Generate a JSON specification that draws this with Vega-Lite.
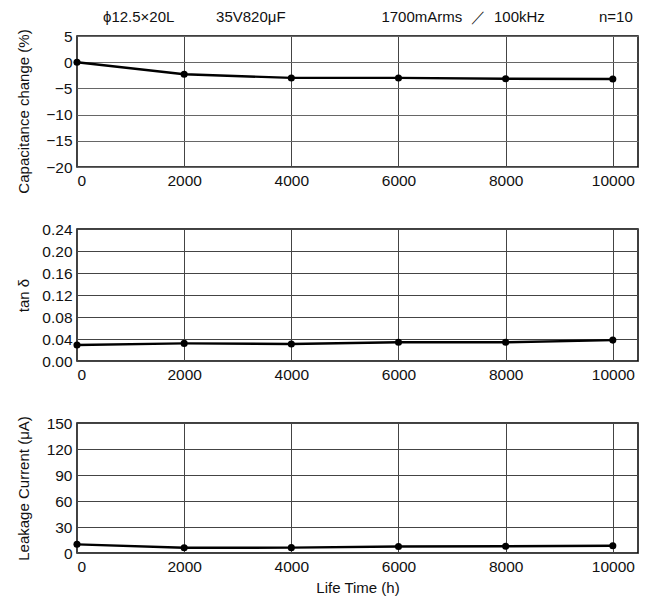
{
  "$schema": "https://vega.github.io/schema/vega-lite/v6.json",
  "background": "white",
  "padding": {"left": 15, "top": 9, "right": 5, "bottom": 0},
  "config": {
    "font": "Liberation Sans",
    "view": {"stroke": "#000", "strokeWidth": 1.5},
    "axis": {
      "domain": false,
      "ticks": false,
      "grid": true,
      "gridColor": "#444",
      "gridWidth": 1,
      "gridOpacity": 1,
      "labelFont": "Liberation Sans",
      "labelFontSize": 15.5,
      "labelColor": "#111",
      "labelPadding": 5,
      "titleFont": "Liberation Sans",
      "titleFontSize": 15,
      "titleFontWeight": "normal",
      "titleColor": "#111"
    },
    "title": {"font": "Liberation Sans", "fontSize": 15, "fontWeight": "normal", "color": "#111"}
  },
  "data": {
    "values": [
      {"t": 0, "cap": 0, "tan": 0.029, "leak": 10},
      {"t": 2000, "cap": -2.3, "tan": 0.032, "leak": 6},
      {"t": 4000, "cap": -3.0, "tan": 0.031, "leak": 6.2},
      {"t": 6000, "cap": -3.0, "tan": 0.034, "leak": 7.5},
      {"t": 8000, "cap": -3.15, "tan": 0.034, "leak": 7.8},
      {"t": 10000, "cap": -3.2, "tan": 0.038, "leak": 8.4}
    ]
  },
  "bounds": "flush",
  "spacing": 62,
  "vconcat": [
    {
      "width": 561,
      "height": 131,
      "title": {
        "text": "ϕ12.5×20L\u00a0\u00a0\u00a0\u00a0\u00a0\u00a0\u00a0\u00a0\u00a0\u00a035V820μF\u00a0\u00a0\u00a0\u00a0\u00a0\u00a0\u00a0\u00a0\u00a0\u00a0\u00a0\u00a0\u00a0\u00a0\u00a0\u00a0\u00a0\u00a0\u00a0\u00a0\u00a0\u00a0\u00a01700mArms\u00a0\u00a0／\u00a0\u00a0100kHz\u00a0\u00a0\u00a0\u00a0\u00a0\u00a0\u00a0\u00a0\u00a0\u00a0\u00a0\u00a0\u00a0n=10",
        "anchor": "start",
        "frame": "group",
        "dx": 26,
        "offset": 4
      },
      "encoding": {
        "x": {"field": "t", "type": "quantitative", "scale": {"domain": [0, 10470], "nice": false}, "axis": {"values": [0, 2000, 4000, 6000, 8000, 10000], "format": "d", "title": null, "labelPadding": 6}},
        "y": {"field": "cap", "type": "quantitative", "scale": {"domain": [-20, 5], "nice": false}, "axis": {"values": [5, 0, -5, -10, -15, -20], "title": "Capacitance change (%)", "titleX": -54, "titleY": 75, "titleBaseline": "middle", "gridColor": "#666"}}
      },
      "layer": [
        {"mark": {"type": "line", "color": "#000", "strokeWidth": 2.4}},
        {"mark": {"type": "point", "filled": true, "color": "#000", "size": 50, "opacity": 1}}
      ]
    },
    {
      "width": 561,
      "height": 132,
      "encoding": {
        "x": {"field": "t", "type": "quantitative", "scale": {"domain": [0, 10470], "nice": false}, "axis": {"values": [0, 2000, 4000, 6000, 8000, 10000], "format": "d", "title": null, "labelPadding": 6}},
        "y": {"field": "tan", "type": "quantitative", "scale": {"domain": [0, 0.24], "nice": false}, "axis": {"values": [0, 0.04, 0.08, 0.12, 0.16, 0.2, 0.24], "format": ".2f", "title": "tan δ", "titleX": -54, "titleY": 66, "titleBaseline": "middle"}}
      },
      "layer": [
        {"mark": {"type": "line", "color": "#000", "strokeWidth": 2.4}},
        {"mark": {"type": "point", "filled": true, "color": "#000", "size": 50, "opacity": 1}}
      ]
    },
    {
      "width": 561,
      "height": 130,
      "encoding": {
        "x": {"field": "t", "type": "quantitative", "scale": {"domain": [0, 10470], "nice": false}, "axis": {"values": [0, 2000, 4000, 6000, 8000, 10000], "format": "d", "title": "Life Time (h)", "titlePadding": 6, "labelPadding": 6}},
        "y": {"field": "leak", "type": "quantitative", "scale": {"domain": [0, 150], "nice": false}, "axis": {"values": [0, 30, 60, 90, 120, 150], "title": "Leakage Current (μA)", "titleX": -54, "titleY": 65, "titleBaseline": "middle"}}
      },
      "layer": [
        {"mark": {"type": "line", "color": "#000", "strokeWidth": 2.4}},
        {"mark": {"type": "point", "filled": true, "color": "#000", "size": 50, "opacity": 1}}
      ]
    }
  ]
}
